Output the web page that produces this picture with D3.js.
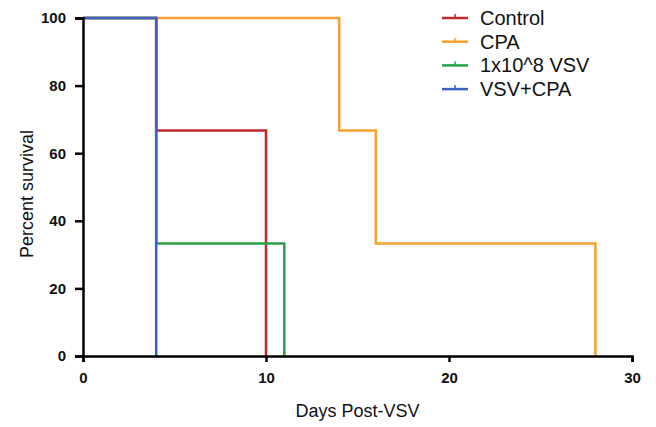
<!DOCTYPE html>
<html>
<head>
<meta charset="utf-8">
<script src="https://cdn.jsdelivr.net/npm/d3@7"></script>
<style>
  body { margin: 0; background: #fff; }
  text { font-family: "Liberation Sans", Arial, sans-serif; fill: #111; }
</style>
</head>
<body>
<svg id="chart"></svg>
<script>
// survival curves: step change points (day, percent surviving)
const seriesNames = ["Control", "CPA", "1x10^8 VSV", "VSV+CPA"];
const seriesColors = ["#c1272d", "#f7a02f", "#27a046", "#3b5fc2"];
const controlDays = [0, 4, 10];
const controlSurv = [100, 66.7, 0];
const cpaDays = [0, 14, 16, 28];
const cpaSurv = [100, 66.7, 33.3, 0];
const vsvDays = [0, 4, 11];
const vsvSurv = [100, 33.3, 0];
const comboDays = [0, 4];
const comboSurv = [100, 0];
const xTicks = [0, 10, 20, 30];
const yTicks = [0, 20, 40, 60, 80, 100];

const width = 656, height = 427;
const margin = {top: 18, right: 24, bottom: 71, left: 83};

const svg = d3.select("#chart").attr("width", width).attr("height", height);

const x = d3.scaleLinear().domain([0, 30]).range([margin.left, width - margin.right]);
const y = d3.scaleLinear().domain([0, 100]).range([height - margin.bottom, margin.top]);

// build step points from the change points
function steps(days, surv) {
    let pts = [];
    days.forEach((d, i) => {
        if (i > 0) pts.push([d, surv[i - 1]]);
        pts.push([d, surv[i]]);
    });
    return pts;
}

const curves = [
    steps(controlDays, controlSurv),
    steps(cpaDays, cpaSurv),
    steps(vsvDays, vsvSurv),
    steps(comboDays, comboSurv)
];

const line = d3.line().x(d => x(d[0])).y(d => y(d[1]));

curves.forEach((pts, i) => {
    svg.append("path")
        .attr("d", line(pts))
        .attr("fill", "none")
        .attr("stroke", seriesColors[i])
        .attr("stroke-width", 2.5);
});

// axes
const xAxis = svg.append("g")
    .attr("transform", `translate(0,${y(0)})`)
    .call(d3.axisBottom(x).tickValues(xTicks).tickSize(6).tickPadding(10));
const yAxis = svg.append("g")
    .attr("transform", `translate(${x(0)},0)`)
    .call(d3.axisLeft(y).tickValues(yTicks).tickSize(8).tickPadding(9));

[xAxis, yAxis].forEach(g => {
    g.select(".domain").attr("stroke", "#000").attr("stroke-width", 2.5);
    g.selectAll(".tick line").attr("stroke", "#000").attr("stroke-width", 2.5);
    g.selectAll(".tick text")
        .style("font-family", "'Liberation Sans', Arial, sans-serif")
        .style("font-size", "15px")
        .style("font-weight", "bold")
        .attr("fill", "#222");
});

// axis titles
svg.append("text")
    .attr("x", (x(0) + x(30)) / 2)
    .attr("y", 417)
    .attr("text-anchor", "middle")
    .style("font-size", "18px")
    .text("Days Post-VSV");

svg.append("text")
    .attr("transform", `translate(33,${194}) rotate(-90)`)
    .attr("text-anchor", "middle")
    .style("font-size", "18px")
    .text("Percent survival");

// legend
const legend = svg.append("g").attr("transform", "translate(442,18)");
seriesNames.forEach((name, i) => {
    const row = legend.append("g").attr("transform", `translate(0,${i * 23.7})`);
    row.append("line")
        .attr("x1", 0).attr("x2", 26).attr("y1", 0).attr("y2", 0)
        .attr("stroke", seriesColors[i]).attr("stroke-width", 2.5);
    row.append("line")
        .attr("x1", 13).attr("x2", 13).attr("y1", 0).attr("y2", -4)
        .attr("stroke", seriesColors[i]).attr("stroke-width", 1.5);
    row.append("text")
        .attr("x", 38).attr("y", 7)
        .style("font-size", "20px")
        .text(name);
});
</script>
</body>
</html>
